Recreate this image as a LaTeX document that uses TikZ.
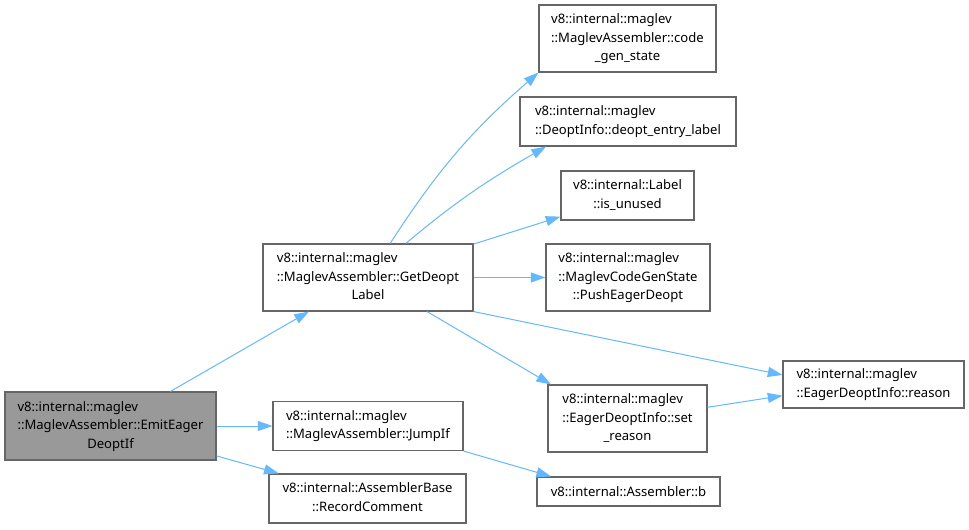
\documentclass[tikz,border=0pt]{standalone}
\usepackage{fontspec}
\setmainfont{Noto Sans}
\usetikzlibrary{arrows.meta}
\definecolor{dxEdge}{HTML}{63B8FF}
\definecolor{dxLine}{HTML}{666666}
\definecolor{dxRoot}{HTML}{999999}
\newlength{\px}
\setlength{\px}{0.75pt}
\tikzset{
  fn/.style   = {draw=dxLine, line width=1.1\px, fill=white, inner sep=0,
                 text=black, font=\fontsize{9.8}{13.9}\selectfont},
  root/.style = {fn, fill=dxRoot},
  call/.style = {draw=dxEdge, line width=1\px,
                 -{Triangle[length=11pt,width=7.5pt]}},
}
% lines flush left, the last one centred under them
\newcommand{\fname}[2]{%
  \begin{tabular}{@{}l@{}}#1\\\multicolumn{1}{@{}c@{}}{#2}\end{tabular}}

\begin{document}
\begin{tikzpicture}[x=1\px, y=1\px]
\useasboundingbox (0,0) rectangle (969,-529);

% ===================== the function itself ==========================
\node[root, minimum width=211\px, minimum height=68\px] (emit) at (110.5,-426)
  {\fname{v8::internal::maglev\\::MaglevAssembler::EmitEager}{DeoptIf}};

% ===================== first level ==================================
\node[fn, minimum width=210\px, minimum height=67\px] (getdeopt) at (368,-277.5)
  {\fname{v8::internal::maglev\\::MaglevAssembler::GetDeopt}{Label}};
\node[fn, minimum width=190\px, minimum height=49\px] (jumpif) at (368,-426)
  {\fname{v8::internal::maglev}{::MaglevAssembler::JumpIf}};
\node[fn, minimum width=197\px, minimum height=49\px] (record) at (367.5,-498.5)
  {\fname{v8::internal::AssemblerBase}{::RecordComment}};

% ===================== second level =================================
\node[fn, minimum width=177\px, minimum height=67\px] (codegen) at (627.5,-38.5)
  {\fname{v8::internal::maglev\\::MaglevAssembler::code}{\_gen\_state}};
\node[fn, minimum width=216\px, minimum height=49\px] (entry) at (628,-121.5)
  {\fname{v8::internal::maglev}{::DeoptInfo::deopt\_entry\_label}};
\node[fn, minimum width=133\px, minimum height=49\px] (unused) at (627.5,-195.5)
  {\fname{v8::internal::Label}{::is\_unused}};
\node[fn, minimum width=164\px, minimum height=67\px] (push) at (628,-277.5)
  {\fname{v8::internal::maglev\\::MaglevCodeGenState}{::PushEagerDeopt}};
\node[fn, minimum width=159\px, minimum height=67\px] (setreason) at (627.5,-418.5)
  {\fname{v8::internal::maglev\\::EagerDeoptInfo::set}{\_reason}};
\node[fn, minimum width=183\px, minimum height=29\px] (asmb) at (628.5,-491.5)
  {v8::internal::Assembler::b};
\node[fn, minimum width=181\px, minimum height=47\px] (reason) at (873.5,-384.5)
  {\fname{v8::internal::maglev}{::EagerDeoptInfo::reason}};

% ===================== calls ========================================
\draw[call] (emit) -- (getdeopt);
\draw[call] (emit) -- (jumpif);
\draw[call] (emit) -- (record);
\draw[call] (getdeopt.57) to[out=57, in=221] (codegen.south west);
\draw[call] (getdeopt.42) to[out=40, in=210] (entry.197);
\draw[call] (getdeopt) -- (unused);
\draw[call] (getdeopt) -- (push);
\draw[call] (getdeopt.south east) -- (reason.174);
\draw[call] (getdeopt.330) -- (setreason.156);
\draw[call] (setreason.8) -- (reason.187);
\draw[call] (jumpif.south east) -- (asmb.169);

\end{tikzpicture}
\end{document}
